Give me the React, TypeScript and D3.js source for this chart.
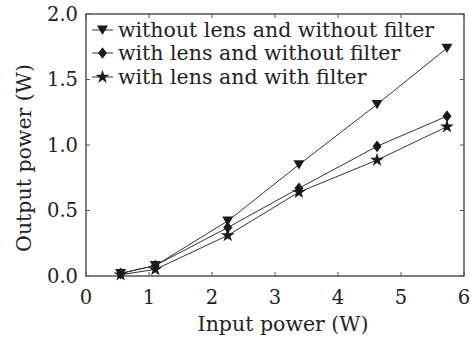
import React, { useRef, useEffect } from "react";
import * as d3 from "d3";

// input power (W)
const inputPower = [0.55, 1.1, 2.25, 3.38, 4.62, 5.73];
// output power (W) per configuration
const noLensNoFilter = [0.02, 0.08, 0.42, 0.85, 1.31, 1.74];
const lensNoFilter = [0.02, 0.08, 0.37, 0.67, 0.99, 1.22];
const lensFilter = [0.01, 0.05, 0.31, 0.64, 0.885, 1.14];

const seriesNames = [
  "without lens and without filter",
  "with lens and without filter",
  "with lens and with filter",
];
const xTicks = [0, 1, 2, 3, 4, 5, 6];
const yTicks = [0, 0.5, 1.0, 1.5, 2.0];

const W = 471;
const H = 345;
const FONT = "'DejaVu Serif', serif";

// marker shapes
const triDown = (s: number) =>
  `M${-s},${-s * 0.8}L${s},${-s * 0.8}L0,${s * 0.9}Z`;
const diamond = (s: number) =>
  `M0,${-s * 1.3}L${s},0L0,${s * 1.3}L${-s},0Z`;
const star = d3.symbol().type(d3.symbolStar);

export default function App() {
  const ref = useRef<SVGSVGElement>(null);

  useEffect(() => {
    const svg = d3.select(ref.current);
    svg.selectAll("*").remove();

    const left = 86, right = 464, top = 14, bottom = 276;
    const x = d3.scaleLinear().domain([0, 6]).range([left, right]);
    const y = d3.scaleLinear().domain([0, 2]).range([bottom, top]);

    const ink = "#1a1a1a";
    const textCol = "#222";
    const g = svg.append("g");

    // ticks, inward on all four sides
    const tl = 4;
    xTicks.forEach((t) => {
      g.append("line").attr("x1", x(t)).attr("x2", x(t))
        .attr("y1", bottom).attr("y2", bottom - tl)
        .attr("stroke", "#555").attr("stroke-width", 1);
      g.append("line").attr("x1", x(t)).attr("x2", x(t))
        .attr("y1", top).attr("y2", top + tl)
        .attr("stroke", "#555").attr("stroke-width", 1);
      g.append("text").attr("x", x(t)).attr("y", 297).attr("dy", "0.35em")
        .attr("text-anchor", "middle").attr("font-family", FONT)
        .attr("font-size", 19.5).attr("fill", textCol).text(t);
    });
    yTicks.forEach((t) => {
      g.append("line").attr("x1", left).attr("x2", left + tl)
        .attr("y1", y(t)).attr("y2", y(t))
        .attr("stroke", "#555").attr("stroke-width", 1);
      g.append("line").attr("x1", right).attr("x2", right - tl)
        .attr("y1", y(t)).attr("y2", y(t))
        .attr("stroke", "#555").attr("stroke-width", 1);
      g.append("text").attr("x", 78).attr("y", y(t)).attr("dy", "0.35em")
        .attr("text-anchor", "end").attr("font-family", FONT)
        .attr("font-size", 19.5).attr("fill", textCol).text(t.toFixed(1));
    });

    // frame
    g.append("rect").attr("x", left).attr("y", top)
      .attr("width", right - left).attr("height", bottom - top)
      .attr("fill", "none").attr("stroke", "#555").attr("stroke-width", 1.5);

    // axis titles
    g.append("text").attr("x", 283).attr("y", 324).attr("dy", "0.35em")
      .attr("text-anchor", "middle").attr("font-family", FONT)
      .attr("font-size", 20.5).attr("fill", textCol).text("Input power (W)");
    g.append("text")
      .attr("transform", `translate(24,158) rotate(-90)`)
      .attr("dy", "0.35em")
      .attr("text-anchor", "middle").attr("font-family", FONT)
      .attr("font-size", 20.5).attr("fill", textCol).text("Output power (W)");

    const series = [
      { name: seriesNames[0], values: noLensNoFilter, shape: triDown(5.5) },
      { name: seriesNames[1], values: lensNoFilter, shape: diamond(4.5) },
      { name: seriesNames[2], values: lensFilter, shape: star.size(60)() as string },
    ];

    const line = d3.line<number>()
      .x((d, i) => x(inputPower[i]))
      .y((d) => y(d));

    series.forEach((s) => {
      g.append("path").attr("d", line(s.values))
        .attr("fill", "none").attr("stroke", "#333").attr("stroke-width", 1);
      s.values.forEach((v, i) => {
        g.append("path").attr("d", s.shape)
          .attr("transform", `translate(${x(inputPower[i])},${y(v)})`)
          .attr("fill", ink);
      });
    });

    // legend
    const ly = [30, 53, 77];
    series.forEach((s, i) => {
      g.append("line").attr("x1", 92).attr("x2", 113)
        .attr("y1", ly[i]).attr("y2", ly[i])
        .attr("stroke", "#333").attr("stroke-width", 1);
      g.append("path").attr("d", s.shape)
        .attr("transform", `translate(102.5,${ly[i]})`).attr("fill", ink);
      g.append("text").attr("x", 118).attr("y", ly[i]).attr("dy", "0.35em")
        .attr("font-family", FONT).attr("font-size", 20.5)
        .attr("fill", textCol).text(s.name);
    });
  }, []);

  return (
    <svg
      ref={ref}
      width={W}
      height={H}
      style={{ position: "absolute", left: 0, top: 0, background: "#fff" }}
    />
  );
}
